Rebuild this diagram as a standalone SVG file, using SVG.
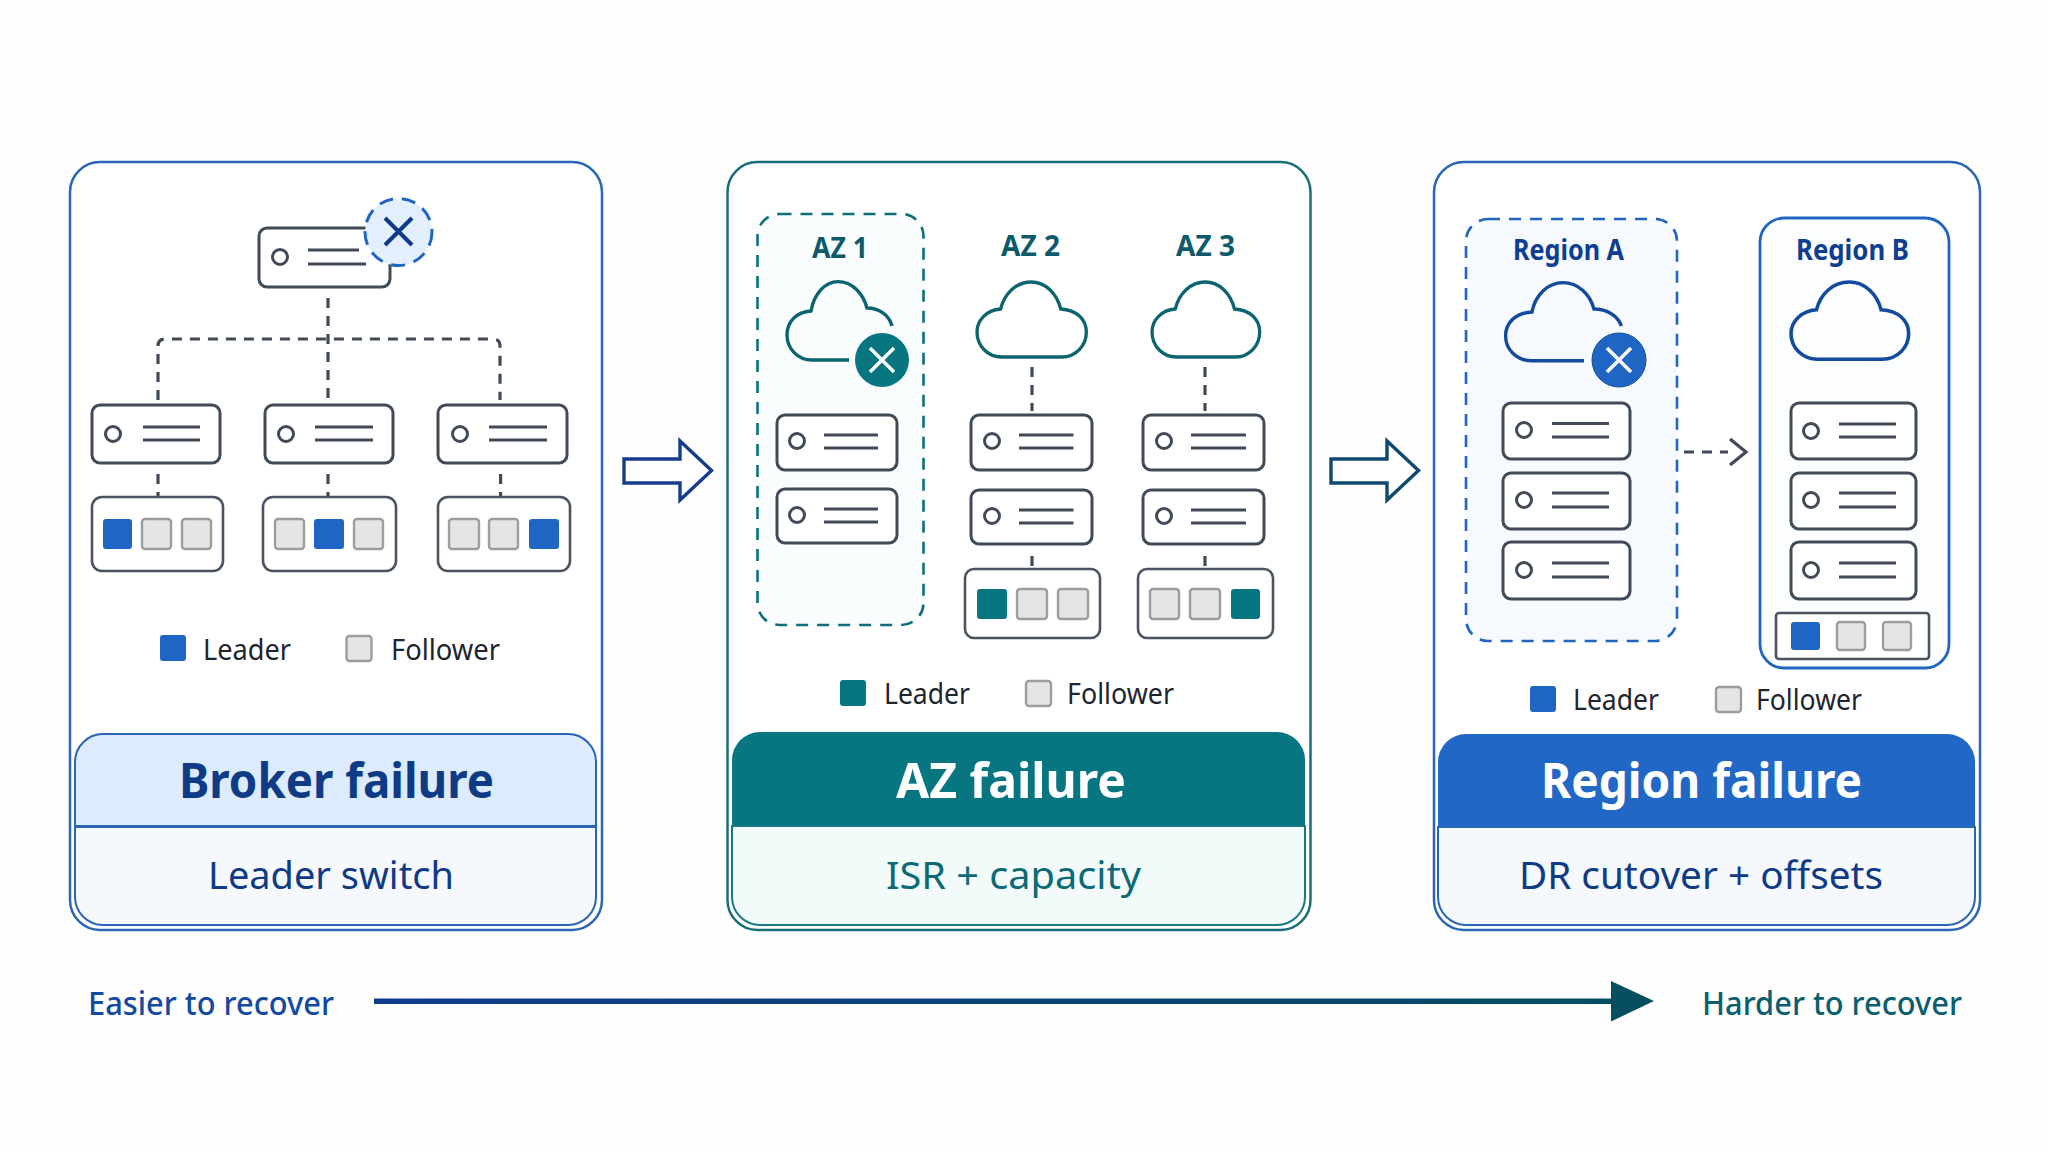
<svg xmlns="http://www.w3.org/2000/svg" width="2048" height="1152" viewBox="0 0 2048 1152">
<style>
text{font-family:"Noto Sans","Open Sans","Liberation Sans",sans-serif}
.panel{fill:#fff;stroke-width:2.5}
.srv{fill:#fff;stroke:#414b58;stroke-width:3}
.srv-l{stroke:#414b58;stroke-width:3;fill:none}
.part{fill:#fff;stroke:#4a5460;stroke-width:2.6}
.fo{fill:#e5e5e4;stroke:#9b9d9e;stroke-width:2.4}
.lb{fill:#1f66c4}
.lt{fill:#087680}
.dash{fill:none;stroke:#414b58;stroke-width:3.2;stroke-dasharray:10 8}
.leg{font-size:29px;fill:#1d2530}
.ttl{font-size:49px;font-weight:700;text-anchor:start}
.sub{font-size:39px}
.lab{font-size:28px;font-weight:700}
.cl-t{fill:none;stroke:#0c6470;stroke-width:3.4}
.cl-b{fill:none;stroke:#134a9e;stroke-width:3.4}
</style>
<defs>
<path id="cloud" d="M25 75H86C101 75 111 63 111 50C111 37 101 28 85 27C81 11 69 0 55 0C40 0 28 11 24 27C10 28 0 38 0 50C0 64 11 75 25 75Z"/>
<g id="s"><circle cx="0" cy="0" r="7.5" fill="none" stroke="#414b58" stroke-width="3"/></g>
<linearGradient id="g" x1="372" x2="1654" y1="0" y2="0" gradientUnits="userSpaceOnUse"><stop offset="0" stop-color="#123a8c"/><stop offset="1" stop-color="#064e60"/></linearGradient>
</defs>
<rect width="2048" height="1152" fill="#fefefe"/>

<g id="panel-broker">
<rect class="panel" x="70" y="162" width="532" height="768" rx="30" stroke="#2a66b4"/>
<path d="M75 762a28 28 0 0 1 28-28H568a28 28 0 0 1 28 28V826H75Z" fill="#dcebfd" stroke="#2a66b4" stroke-width="2"/>
<path d="M75 827H596V897a28 28 0 0 1-28 28H103a28 28 0 0 1-28-28Z" fill="#f5f9fe" stroke="#2a66b4" stroke-width="2"/>
<text class="ttl" x="179" y="798" fill="#0e3a86" textLength="315" lengthAdjust="spacingAndGlyphs">Broker failure</text>
<text class="sub" x="208" y="889" fill="#0f3a86" textLength="246" lengthAdjust="spacingAndGlyphs">Leader switch</text>
</g>
<g id="panel-az">
<rect class="panel" x="727.500" y="162" width="583" height="768" rx="30" stroke="#1a6e78"/>
<path d="M732 760a28 28 0 0 1 28-28H1277a28 28 0 0 1 28 28V825H732Z" fill="#087680"/>
<path d="M732 826H1305V897a28 28 0 0 1-28 28H760a28 28 0 0 1-28-28Z" fill="#f3fafa" stroke="#1a7a84" stroke-width="2"/>
<text class="ttl" x="896" y="798" fill="#fff" textLength="230" lengthAdjust="spacingAndGlyphs">AZ failure</text>
<text class="sub" x="886" y="889" fill="#0b6a76" textLength="255" lengthAdjust="spacingAndGlyphs">ISR + capacity</text>
</g>
<g id="panel-region">
<rect class="panel" x="1434" y="162" width="546" height="768" rx="30" stroke="#2a66b4"/>
<path d="M1438 762a28 28 0 0 1 28-28H1947a28 28 0 0 1 28 28V826H1438Z" fill="#2167c5"/>
<path d="M1438 827H1975V897a28 28 0 0 1-28 28H1466a28 28 0 0 1-28-28Z" fill="#f5f9fe" stroke="#2a66b4" stroke-width="2"/>
<text class="ttl" x="1541" y="798" fill="#fff" textLength="321" lengthAdjust="spacingAndGlyphs">Region failure</text>
<text class="sub" x="1519" y="889" fill="#0f3a86" textLength="364" lengthAdjust="spacingAndGlyphs">DR cutover + offsets</text>
</g>

<g id="connectors">
<path class="dash" d="M328 298V400"/>
<path class="dash" d="M158 400V346q0-7 7-7H493q7 0 7 7V400"/>
<path class="dash" d="M158 474V496M328 474V496M500.600 474V496"/>
<path class="dash" d="M1032 367V411M1205 367V411"/>
<path class="dash" d="M1032 556V566M1205 556V566"/>
<path class="dash" d="M1684 452H1728"/>
<path d="M1730 439L1746 452L1730 465" fill="none" stroke="#414b58" stroke-width="3.2"/>
<path id="flow-1" d="M624 459H680V441L711.500 470.500L680 500V483H624Z" fill="#fff" stroke="#163c8c" stroke-width="3.4"/>
<path id="flow-2" d="M1331 459H1387V441L1418.500 470.500L1387 500V483H1331Z" fill="#fff" stroke="#0f4a6e" stroke-width="3.4"/>
<rect id="axis" x="374" y="998.500" width="1238" height="5.500" fill="url(#g)"/>
<path d="M1611 981L1654 1001L1611 1021.500Z" fill="#064e60"/>
</g>

<g id="broker-failed">
<rect class="srv" x="259" y="228" width="131" height="59" rx="8"/>
<use href="#s" x="280" y="257"/><path class="srv-l" d="M308 250H359M308 264H366"/>
<circle cx="398.500" cy="232" r="33.500" fill="#e3effc" stroke="#1f66c4" stroke-width="3" stroke-dasharray="14 9"/>
<path d="M385 218L412 245M412 218L385 245" stroke="#0e3a8c" stroke-width="4" fill="none"/>
</g>
<g id="broker-1">
<rect class="srv" x="92" y="405" width="128" height="58" rx="8"/><use href="#s" x="113" y="434"/><path class="srv-l" d="M143 427H200M143 440H200"/>
<rect class="part" x="92" y="497" width="131" height="74" rx="10"/>
<rect class="lb" x="103" y="519" width="29" height="30" rx="3"/><rect class="fo" x="142" y="519" width="29" height="30" rx="3"/><rect class="fo" x="182" y="519" width="29" height="30" rx="3"/>
</g>
<g id="broker-2">
<rect class="srv" x="265" y="405" width="128" height="58" rx="8"/><use href="#s" x="286" y="434"/><path class="srv-l" d="M315 427H373M315 440H373"/>
<rect class="part" x="263" y="497" width="133" height="74" rx="10"/>
<rect class="fo" x="275" y="519" width="29" height="30" rx="3"/><rect class="lb" x="314" y="519" width="30" height="30" rx="3"/><rect class="fo" x="354" y="519" width="29" height="30" rx="3"/>
</g>
<g id="broker-3">
<rect class="srv" x="438" y="405" width="129" height="58" rx="8"/><use href="#s" x="460" y="434"/><path class="srv-l" d="M489 427H547M489 440H547"/>
<rect class="part" x="438" y="497" width="132" height="74" rx="10"/>
<rect class="fo" x="449" y="519" width="30" height="30" rx="3"/><rect class="fo" x="489" y="519" width="29" height="30" rx="3"/><rect class="lb" x="529" y="519" width="30" height="30" rx="3"/>
</g>
<g id="broker-legend">
<rect class="lb" x="160" y="635" width="26" height="26" rx="3"/><text class="leg" x="203" y="660" textLength="88" lengthAdjust="spacingAndGlyphs">Leader</text>
<rect class="fo" x="346.500" y="636" width="25" height="25" rx="3"/><text class="leg" x="391" y="660" textLength="109" lengthAdjust="spacingAndGlyphs">Follower</text>
</g>

<g id="az-1">
<rect x="757.500" y="214" width="166" height="411" rx="22" fill="#f9fdfd" stroke="#0e6f7a" stroke-width="2.6" stroke-dasharray="12 9"/>
<text class="lab" x="812" y="258" fill="#0c5a6c" textLength="56" lengthAdjust="spacingAndGlyphs">AZ 1</text>
<path class="cl-t" d="M849 360H812C797 360 787 348 787 335C787 321 797 312 811 311C814 294 825 281.600 838 281.600C852 281.600 863 293 867 308C879 308 889 315 892 326"/>
<circle cx="882" cy="360" r="27" fill="#087680"/>
<path d="M870 348L894 372M894 348L870 372" stroke="#fff" stroke-width="3.600"/>
<rect class="srv" x="777" y="415" width="120" height="55" rx="8"/><use href="#s" x="797" y="441"/><path class="srv-l" d="M824 435H878M824 448H878"/>
<rect class="srv" x="777" y="489" width="120" height="54" rx="8"/><use href="#s" x="797" y="515"/><path class="srv-l" d="M824 509H878M824 522H878"/>
</g>
<g id="az-2">
<text class="lab" x="1001" y="256" fill="#0c5a6c" textLength="59" lengthAdjust="spacingAndGlyphs">AZ 2</text>
<use href="#cloud" class="cl-t" transform="translate(977 282) scale(.985 1)"/>
<rect class="srv" x="971" y="415" width="121" height="55" rx="8"/><use href="#s" x="992" y="441"/><path class="srv-l" d="M1019 435H1073.500M1019 448H1073.500"/>
<rect class="srv" x="971" y="490" width="121" height="54" rx="8"/><use href="#s" x="992" y="516"/><path class="srv-l" d="M1019 510H1073.500M1019 523H1073.500"/>
<rect class="part" x="965" y="569" width="135" height="69" rx="9"/>
<rect class="lt" x="977" y="589" width="30" height="30" rx="3"/><rect class="fo" x="1017" y="589" width="30" height="30" rx="3"/><rect class="fo" x="1058" y="589" width="30" height="30" rx="3"/>
</g>
<g id="az-3">
<text class="lab" x="1176" y="256" fill="#0c5a6c" textLength="59" lengthAdjust="spacingAndGlyphs">AZ 3</text>
<use href="#cloud" class="cl-t" transform="translate(1152 282) scale(.97 1)"/>
<rect class="srv" x="1143" y="415" width="121" height="55" rx="8"/><use href="#s" x="1164" y="441"/><path class="srv-l" d="M1191 435H1246M1191 448H1246"/>
<rect class="srv" x="1143" y="490" width="121" height="54" rx="8"/><use href="#s" x="1164" y="516"/><path class="srv-l" d="M1191 510H1246M1191 523H1246"/>
<rect class="part" x="1138" y="569" width="135" height="69" rx="9"/>
<rect class="fo" x="1150" y="589" width="29" height="30" rx="3"/><rect class="fo" x="1190" y="589" width="30" height="30" rx="3"/><rect class="lt" x="1231" y="589" width="29" height="30" rx="3"/>
</g>
<g id="az-legend">
<rect class="lt" x="840" y="680" width="26" height="26" rx="3"/><text class="leg" x="884" y="704" textLength="86" lengthAdjust="spacingAndGlyphs">Leader</text>
<rect class="fo" x="1026" y="681" width="25" height="25" rx="3"/><text class="leg" x="1067" y="704" textLength="107" lengthAdjust="spacingAndGlyphs">Follower</text>
</g>

<g id="region-a">
<rect x="1466" y="219" width="211" height="422" rx="22" fill="#f6f9fe" stroke="#2066c0" stroke-width="2.6" stroke-dasharray="12 9"/>
<text class="lab" x="1513" y="260" fill="#0f3d90" textLength="111" lengthAdjust="spacingAndGlyphs">Region A</text>
<path class="cl-b" d="M1584 360.700H1532C1516 360.700 1505.600 349 1505.600 336C1505.600 322 1516 313 1532 312C1535 295 1548 282.600 1563 282.600C1578 282.600 1590 294 1594 309C1607 309 1618 316 1621.400 326"/>
<circle cx="1619" cy="360" r="27" fill="#1f66c4" stroke="#164a9c" stroke-width="1"/>
<path d="M1607 348L1631 372M1631 348L1607 372" stroke="#fff" stroke-width="3.600"/>
<rect class="srv" x="1503" y="403" width="127" height="56" rx="8"/><use href="#s" x="1524" y="430"/><path class="srv-l" d="M1552 423.500H1609M1552 437H1609"/>
<rect class="srv" x="1503" y="473" width="127" height="56" rx="8"/><use href="#s" x="1524" y="500"/><path class="srv-l" d="M1552 493H1609M1552 507H1609"/>
<rect class="srv" x="1503" y="542" width="127" height="57" rx="8"/><use href="#s" x="1524" y="570"/><path class="srv-l" d="M1552 563H1609M1552 577H1609"/>
</g>
<g id="region-b">
<rect x="1760" y="218" width="189" height="450" rx="24" fill="#fbfdff" stroke="#2066c0" stroke-width="2.8"/>
<text class="lab" x="1796" y="260" fill="#0f3d90" textLength="113" lengthAdjust="spacingAndGlyphs">Region B</text>
<use href="#cloud" class="cl-b" transform="translate(1791 282) scale(1.06 1.03)"/>
<rect class="srv" x="1791" y="403" width="125" height="56" rx="8"/><use href="#s" x="1811" y="431"/><path class="srv-l" d="M1839 424H1896M1839 437H1896"/>
<rect class="srv" x="1791" y="473" width="125" height="56" rx="8"/><use href="#s" x="1811" y="500"/><path class="srv-l" d="M1839 493H1896M1839 507H1896"/>
<rect class="srv" x="1791" y="542" width="125" height="57" rx="8"/><use href="#s" x="1811" y="570"/><path class="srv-l" d="M1839 563H1896M1839 577H1896"/>
<rect class="part" x="1776" y="613" width="153" height="46" rx="3"/>
<rect class="lb" x="1791" y="622" width="29" height="28" rx="3"/><rect class="fo" x="1837" y="622" width="28" height="28" rx="3"/><rect class="fo" x="1883" y="622" width="28" height="28" rx="3"/>
</g>
<g id="region-legend">
<rect class="lb" x="1530" y="686" width="26" height="26" rx="3"/><text class="leg" x="1573" y="710" textLength="86" lengthAdjust="spacingAndGlyphs">Leader</text>
<rect class="fo" x="1716" y="687" width="25" height="25" rx="3"/><text class="leg" x="1756" y="710" textLength="106" lengthAdjust="spacingAndGlyphs">Follower</text>
</g>

<g id="labels">
<text x="88" y="1015" font-size="33" font-weight="500" fill="#134a9e" textLength="246" lengthAdjust="spacingAndGlyphs">Easier to recover</text>
<text x="1702" y="1015" font-size="33" font-weight="500" fill="#0b5e6e" textLength="260" lengthAdjust="spacingAndGlyphs">Harder to recover</text>
</g>
</svg>
